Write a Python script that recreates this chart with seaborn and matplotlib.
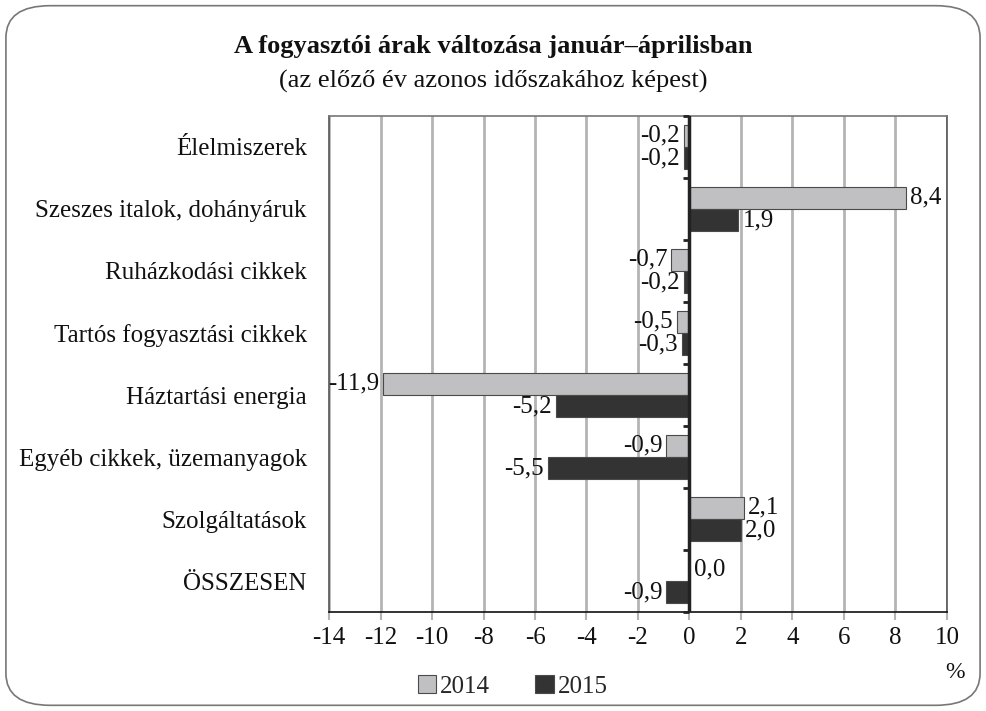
import matplotlib
matplotlib.use("Agg")
import matplotlib.pyplot as plt
import seaborn as sns
import pandas as pd
from matplotlib.patches import FancyBboxPatch, Patch

categories = ["Élelmiszerek", "Szeszes italok, dohányáruk", "Ruházkodási cikkek",
              "Tartós fogyasztási cikkek", "Háztartási energia",
              "Egyéb cikkek, üzemanyagok", "Szolgáltatások", "ÖSSZESEN"]
values_2014 = [-0.2, 8.4, -0.7, -0.5, -11.9, -0.9, 2.1, 0.0]
values_2015 = [-0.2, 1.9, -0.2, -0.3, -5.2, -5.5, 2.0, -0.9]
years = ["2014", "2015"]
xticks = list(range(-14, 11, 2))

df = pd.DataFrame({
    "cat": categories * 2,
    "val": values_2014 + values_2015,
    "year": [years[0]] * len(categories) + [years[1]] * len(categories),
})

sns.set_theme(style="white")
plt.rcParams["font.family"] = ["Liberation Serif", "DejaVu Serif"]

fig = plt.figure(figsize=(9.86, 7.11), dpi=100)
ax = fig.add_axes([0.3337, 0.1392, 0.6267, 0.6977])

colors = {"2014": "#c0c0c3", "2015": "#333333"}
sns.barplot(data=df, y="cat", x="val", hue="year", orient="h", palette=colors,
            width=0.72, edgecolor="#4a4a4a", linewidth=0.8, ax=ax, legend=False)

ax.set_xlim(-14, 10)
ax.set_ylim(len(categories) - 0.5, -0.5)
ax.set_xticks(xticks)
ax.set_xticklabels([str(t) for t in xticks])
ax.grid(axis="x", color="#b4b4b4", linewidth=2)
ax.grid(axis="y", visible=False)
ax.set_axisbelow(True)
ax.set_xlabel("")
ax.set_ylabel("")

ax.tick_params(axis="x", which="both", bottom=True, length=6, width=1.5,
               color="#b4b4b4", labelsize=18, pad=5, labelcolor="#111111")
ax.tick_params(axis="y", length=0, labelsize=18, pad=16, labelcolor="#111111")

for side, col, lw in [("left", "#555555", 1.2), ("top", "#777777", 1.2),
                      ("right", "#555555", 1.2), ("bottom", "#111111", 1.2)]:
    ax.spines[side].set_visible(True)
    ax.spines[side].set_color(col)
    ax.spines[side].set_linewidth(lw)

# zero axis line with category boundary ticks pointing left
ax.axvline(0, color="#222222", linewidth=2.5, zorder=5)
boundaries = [i - 0.5 for i in range(len(categories) + 1)]
ax.hlines(boundaries, xmin=-0.25, xmax=0, color="#222222", linewidth=2,
          zorder=5, clip_on=False)

def fmt(v):
    return f"{v:.1f}".replace(".", ",")

for cont, vals in zip(ax.containers, [values_2014, values_2015]):
    ax.bar_label(cont, labels=[fmt(v) for v in vals], padding=3, fontsize=18,
                 color="#111111")

fig.text(0.5, 0.935, "A fogyasztói árak változása január–áprilisban",
         ha="center", va="center", fontsize=19, fontweight="bold", color="#111111")
fig.text(0.5, 0.886, "(az előző év azonos időszakához képest)",
         ha="center", va="center", fontsize=19, color="#111111")
fig.text(0.969, 0.054, "%", ha="center", va="center", fontsize=17,
         color="#111111")

handles = [Patch(facecolor=colors[y], edgecolor="#4a4a4a", linewidth=0.8, label=y)
           for y in years]
fig.legend(handles=handles, loc="center", bbox_to_anchor=(0.52, 0.035), ncol=2,
           frameon=False, fontsize=18, handlelength=0.75, handleheight=0.75,
           handletextpad=0.15, columnspacing=1.8)

border = FancyBboxPatch((0.006, 0.008), 0.988, 0.984,
                        boxstyle="round,pad=0,rounding_size=0.045",
                        transform=fig.transFigure, facecolor="none",
                        edgecolor="#777777", linewidth=1.2)
fig.patches.append(border)

fig.savefig("out.png", dpi=100)
